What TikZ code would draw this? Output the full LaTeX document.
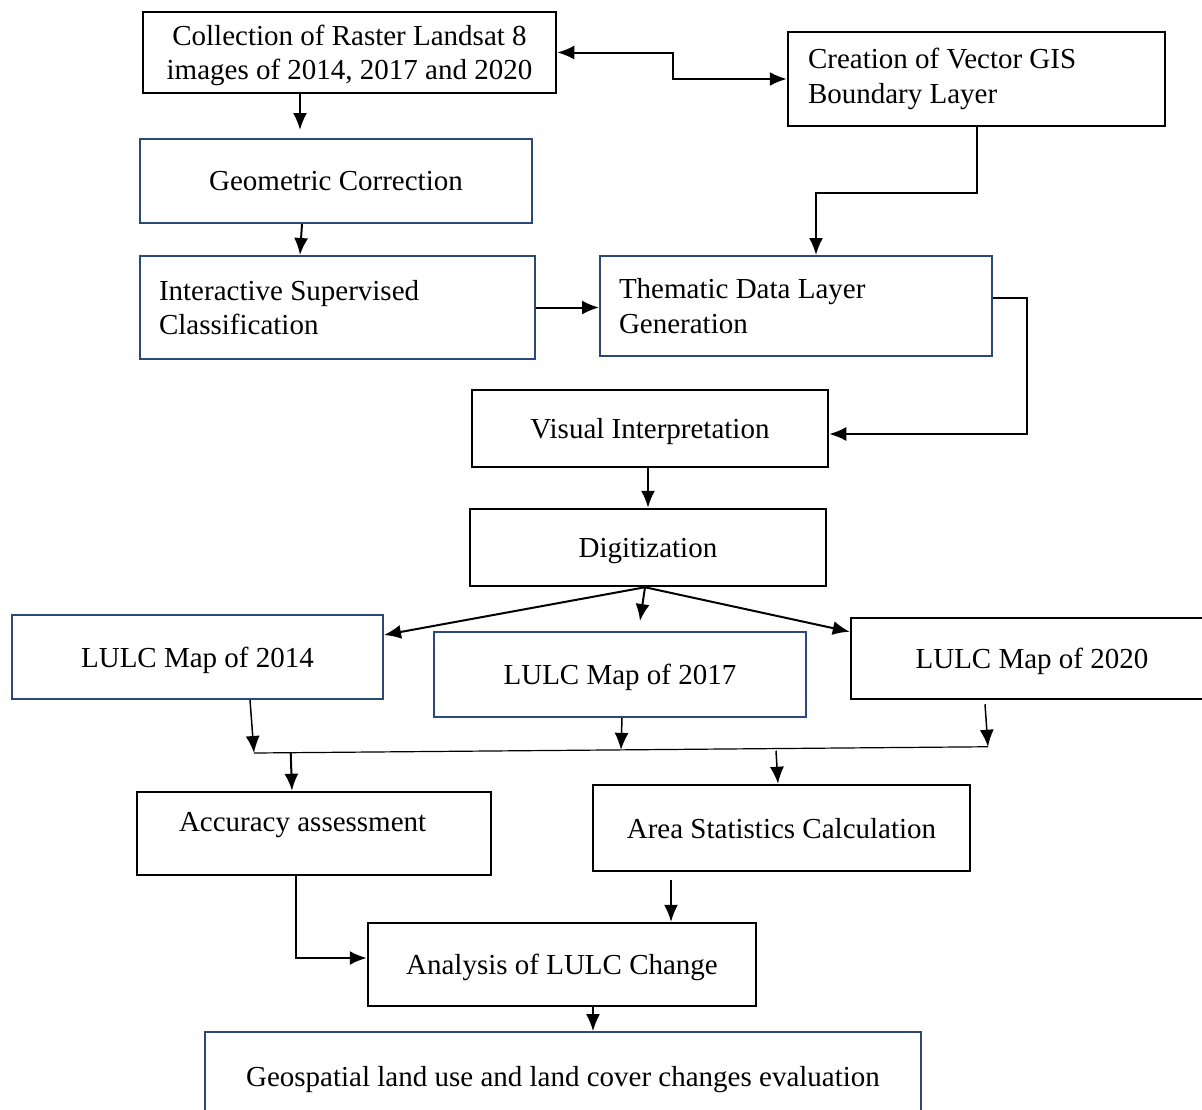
\documentclass[tikz,border=0pt]{standalone}
\usepackage{fontspec}
\setmainfont{Liberation Serif}
\usepackage{tikz}
\usetikzlibrary{calc}
\usetikzlibrary{arrows.meta}
\tikzset{>={Latex[width=14pt,length=17pt]}}
\definecolor{boxblue}{RGB}{44,72,120}

\begin{document}
\begin{tikzpicture}[
    x = 1pt, y = -1pt,
    every node/.style = {font=\fontsize{29}{34.5}\selectfont},
    box/.style = {draw, line width=2.5pt, inner sep=0pt, align=center, text depth=0pt},
    bluebox/.style = {box, draw=boxblue, line width=2pt},
    lefttext/.style = {align=flush left, text depth={}},
    flow/.style = {->, line width=2pt},
    thin flow/.style = {->, line width=1.5pt}
  ]
  \useasboundingbox (0,0) rectangle (1202,1109);

  \node[box, minimum width=413pt, minimum height=81pt] (coll) at (349.5,52.5) {Collection of Raster Landsat 8\\images of 2014, 2017 and 2020};
  \node[box, lefttext, minimum width=377pt, minimum height=94pt, text width=337pt] (vect) at (976.5,79) {Creation of Vector GIS\\Boundary Layer};
  \node[bluebox, minimum width=392pt, minimum height=84pt] (geo) at (336,181) {Geometric Correction};
  \node[bluebox, lefttext, minimum width=395pt, minimum height=103pt, text width=357pt] (isc) at (337.5,307.5) {Interactive Supervised\\Classification};
  \node[bluebox, lefttext, minimum width=392pt, minimum height=100pt, text width=354pt] (tdl) at (796,306) {Thematic Data Layer\\Generation};
  \node[box, minimum width=356pt, minimum height=77pt] (vis) at (650,428.5) {Visual Interpretation};
  \node[box, minimum width=356pt, minimum height=77pt] (dig) at (648,547.5) {Digitization};
  \node[bluebox, minimum width=371pt, minimum height=84pt] (lulcA) at (197.5,657) {LULC Map of 2014};
  \node[bluebox, minimum width=372pt, minimum height=85pt] (lulcB) at (620,674.5) {LULC Map of 2017};
  \node[box, minimum width=362pt, minimum height=81pt] (lulcC) at (1032,658.5) {LULC Map of 2020};
  \node[box, minimum width=354pt, minimum height=83pt, text width=270pt, align=flush left, text depth=24pt] (acc) at (314,833.5) {Accuracy assessment};
  \node[box, minimum width=377pt, minimum height=86pt] (area) at (781.5,828) {Area Statistics Calculation};
  \node[box, minimum width=388pt, minimum height=83pt] (lcc) at (562,964.5) {Analysis of LULC Change};
  \node[bluebox, minimum width=716pt, minimum height=88pt] (geos) at (563,1076) {Geospatial land use and land cover changes evaluation};

  \draw[flow] ($(coll.south)+(-49.5,0)$) -- ($(geo.north)+(-36,-8)$);
  \draw[<->, line width=2pt] (coll.east) -- ++(116,0) |- (vect.west);
  \draw[flow] ($(geo.south)+(-34,0)$) -- ($(isc.north)+(-37.5,0)$);
  \draw[flow] ($(vect.south)+(0.5,0)$) -- ++(0,66) -| ($(tdl.north)+(20,0)$);
  \draw[flow] (isc.east) -- (isc.east -| tdl.west);
  \draw[flow] ($(tdl.east)+(0,-8)$) -- ++(34,0) |- ($(vis.east)+(0,5.5)$);
  \draw[flow] (vis.south -| dig.north) -- (dig.north);

  \coordinate (split) at ($(dig.south)+(-3,0)$);
  \draw[flow] (split) -- ($(lulcA.north east)+(0,21)$);
  \draw[flow] (split) -- ($(lulcB.north)+(20,-10)$);
  \draw[flow] (split) -- ($(lulcC.north west)+(0,15)$);

  \coordinate (busL) at ($(lulcA.south)+(56.5,53)$);
  \coordinate (busR) at ($(lulcC.south)+(-44,46.5)$);
  \draw[line width=1.2pt] (busL) -- (busR);
  \draw[thin flow] ($(lulcA.south)+(52.5,0)$) -- (busL);
  \draw[thin flow] ($(lulcB.south)+(2,0)$) -- ($(busL)!0.5!(busR)$);
  \draw[thin flow] ($(lulcC.south)+(-47,4)$) -- (busR);
  \draw[flow] ($(busL)!0.05!(busR)$) -- ($(acc.north)+(-22,0)$);
  \draw[thin flow] ($(area.north)+(-5.5,-33)$) -- ($(area.north)+(-3.5,0)$);

  \draw[flow] ($(acc.south)+(-18,0)$) |- ($(lcc.west)+(0,-6.5)$);
  \draw[thin flow] ($(area.south)+(-110.5,8)$) -- ($(lcc.north)+(109,0)$);
  \draw[thin flow] ($(lcc.south)+(31,0)$) -- ($(geos.north)+(30,0)$);
\end{tikzpicture}
\end{document}
